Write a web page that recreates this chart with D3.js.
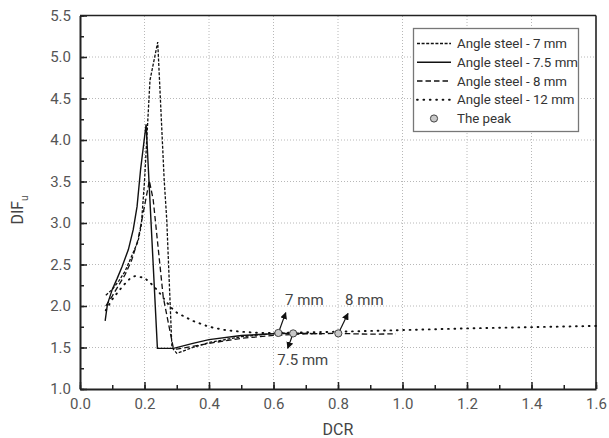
<!DOCTYPE html>
<html><head><meta charset="utf-8">
<script src="https://cdn.jsdelivr.net/npm/d3@7"></script>
<style>
html,body{margin:0;padding:0;background:#fff;}
text{font-family:Roboto,"Noto Sans",sans-serif;}
</style></head>
<body><svg id="c" width="609" height="438"></svg>
<script>
// ---- data ----
const xTicks = [0.0,0.2,0.4,0.6,0.8,1.0,1.2,1.4,1.6];
const yTicks = [1.0,1.5,2.0,2.5,3.0,3.5,4.0,4.5,5.0,5.5];
const seriesNames = ["Angle steel - 7 mm","Angle steel - 7.5 mm","Angle steel - 8 mm","Angle steel - 12 mm"];
const steel7 = [[0.08,2.13],[0.1,2.2],[0.12,2.3],[0.14,2.42],[0.16,2.6],[0.18,2.78],[0.19,2.97],[0.2,3.5],[0.217,4.72],[0.241,5.18],[0.261,3.52],[0.269,3.04],[0.285,1.5],[0.3,1.43],[0.35,1.5],[0.4,1.56],[0.5,1.63],[0.615,1.675],[0.7,1.67],[0.75,1.665]];
const steel75 = [[0.078,1.82],[0.085,2.02],[0.1,2.2],[0.115,2.33],[0.13,2.47],[0.15,2.68],[0.165,2.92],[0.177,3.2],[0.188,3.65],[0.205,4.19],[0.24,1.49],[0.29,1.49],[0.35,1.55],[0.4,1.595],[0.5,1.645],[0.6,1.665],[0.661,1.67],[0.7,1.67]];
const steel8 = [[0.08,2.0],[0.1,2.12],[0.12,2.25],[0.14,2.38],[0.16,2.55],[0.18,2.8],[0.195,3.1],[0.215,3.51],[0.227,3.28],[0.258,2.11],[0.289,1.5],[0.3,1.48],[0.4,1.55],[0.5,1.61],[0.6,1.645],[0.7,1.665],[0.801,1.67],[0.9,1.66],[0.98,1.665]];
const steel12 = [[0.08,1.95],[0.1,2.08],[0.12,2.18],[0.135,2.25],[0.155,2.33],[0.17,2.36],[0.2,2.34],[0.22,2.27],[0.24,2.19],[0.26,2.09],[0.28,1.99],[0.3,1.92],[0.35,1.82],[0.4,1.75],[0.45,1.71],[0.5,1.69],[0.56,1.675],[0.6,1.675],[0.8,1.69],[1.0,1.71],[1.2,1.73],[1.4,1.745],[1.6,1.76]];
const peakX = [0.615,0.661,0.801];
const peakY = [1.675,1.67,1.67];
const peakLabels = ["7 mm","7.5 mm","8 mm"];
const arrowTipX = [0.638,0.644,0.831];
const arrowTipY = [1.92,1.49,1.91];
const labelX = [0.636,0.612,0.822];
const labelY = [2.01,1.29,2.01];

// ---- styles ----
const dashes = ["3,1.6","none","5.5,3","0.8,5.6"];
const caps = ["butt","butt","butt","round"];
const widths = [1.3,1.4,1.3,1.9];
const svg = d3.select("#c");
const x = d3.scaleLinear().domain([0,1.6]).range([80,596]);
const y = d3.scaleLinear().domain([1,5.5]).range([389,15.5]);

// grid
const grid = svg.append("g").attr("stroke","#b8b8b8").attr("stroke-width",1).attr("stroke-dasharray","1,2");
grid.selectAll("line.gx").data(xTicks.slice(1,-1)).enter().append("line")
  .attr("x1",d=>x(d)).attr("x2",d=>x(d)).attr("y1",y(1)).attr("y2",y(5.5));
grid.selectAll("line.gy").data(yTicks.slice(1,-1)).enter().append("line")
  .attr("y1",d=>y(d)).attr("y2",d=>y(d)).attr("x1",x(0)).attr("x2",x(1.6));

// frame top/right
svg.append("line").attr("x1",x(0)).attr("x2",x(1.6)).attr("y1",y(5.5)).attr("y2",y(5.5)).attr("stroke","#222").attr("stroke-width",1.6);
svg.append("line").attr("x1",x(1.6)).attr("x2",x(1.6)).attr("y1",y(5.5)).attr("y2",y(1)).attr("stroke","#222").attr("stroke-width",1.6);

// minor ticks
const minorX = d3.range(0,1.61,0.1).map(v=>+v.toFixed(2));
const minorY = d3.range(1,5.51,0.25).map(v=>+v.toFixed(2));
svg.append("g").attr("transform",`translate(0,${y(1)})`)
  .call(d3.axisBottom(x).tickValues(minorX).tickSize(-4).tickFormat(""))
  .call(g=>{g.select(".domain").remove(); g.selectAll("line").attr("stroke","#222").attr("stroke-width",1.5);});
svg.append("g").attr("transform",`translate(${x(0)},0)`)
  .call(d3.axisLeft(y).tickValues(minorY).tickSize(-4).tickFormat(""))
  .call(g=>{g.select(".domain").remove(); g.selectAll("line").attr("stroke","#222").attr("stroke-width",1.5);});

// major axes
const ax = svg.append("g").attr("transform",`translate(0,${y(1)})`)
  .call(d3.axisBottom(x).tickValues(xTicks).tickSize(-7).tickSizeOuter(0).tickPadding(9).tickFormat(d3.format(".1f")));
const ay = svg.append("g").attr("transform",`translate(${x(0)},0)`)
  .call(d3.axisLeft(y).tickValues(yTicks).tickSize(-7).tickSizeOuter(0).tickPadding(9).tickFormat(d3.format(".1f")));
[ax,ay].forEach(g=>{
  g.select(".domain").attr("stroke","#222").attr("stroke-width",2);
  g.selectAll(".tick line").attr("stroke","#222").attr("stroke-width",1.5);
  g.selectAll(".tick text").attr("font-size",15).attr("fill","#555").attr("font-family","Roboto");
});

// axis titles
svg.append("text").attr("x",x(0.8)).attr("y",435).attr("text-anchor","middle")
  .attr("font-size",16).attr("fill","#444").text("DCR");
const yl = svg.append("text").attr("transform",`translate(23,${210}) rotate(-90)`).attr("text-anchor","middle")
  .attr("font-size",16).attr("fill","#444");
yl.append("tspan").text("DIF");
yl.append("tspan").attr("font-size",10).attr("dy",5).text("u");

// series
const series = [steel7,steel75,steel8,steel12];
const line = d3.line().x(d=>x(d[0])).y(d=>y(d[1]));
svg.append("g").selectAll("path").data(series).enter().append("path")
  .attr("d",line).attr("fill","none").attr("stroke","#111")
  .attr("stroke-width",(d,i)=>widths[i])
  .attr("stroke-linecap",(d,i)=>caps[i])
  .attr("stroke-dasharray",(d,i)=>dashes[i]);

// arrows
const defs = svg.append("defs");
defs.append("marker").attr("id","ah").attr("viewBox","0 0 10 10").attr("refX",9).attr("refY",5)
  .attr("markerWidth",7).attr("markerHeight",7).attr("markerUnits","userSpaceOnUse").attr("orient","auto")
  .append("path").attr("d","M0,0 L10,5 L0,10 z").attr("fill","#111");
svg.append("g").selectAll("line").data(peakX).enter().append("line")
  .attr("x1",(d,i)=>x(d)).attr("y1",(d,i)=>y(peakY[i]))
  .attr("x2",(d,i)=>x(arrowTipX[i])).attr("y2",(d,i)=>y(arrowTipY[i]))
  .attr("stroke","#111").attr("stroke-width",1.2).attr("marker-end","url(#ah)");
svg.append("g").selectAll("text").data(peakLabels).enter().append("text")
  .attr("x",(d,i)=>x(labelX[i])).attr("y",(d,i)=>y(labelY[i]))
  .attr("font-size",15).attr("fill","#444").text(d=>d);

// peaks
svg.append("g").selectAll("circle").data(peakX).enter().append("circle")
  .attr("cx",d=>x(d)).attr("cy",(d,i)=>y(peakY[i])).attr("r",3.6)
  .attr("fill","#c8c8c8").attr("stroke","#444").attr("stroke-width",1);

// legend
const lg = svg.append("g");
lg.append("rect").attr("x",413.5).attr("y",28.5).attr("width",165).attr("height",103)
  .attr("fill","#fff").attr("stroke","#777").attr("stroke-width",1.3);
const legItems = seriesNames.concat(["The peak"]);
const rowY = d3.scaleLinear().domain([0,4]).range([43.5,118.5]);
legItems.forEach((name,i)=>{
  const yy = rowY(i);
  if(i<4){
    lg.append("line").attr("x1",417).attr("x2",451).attr("y1",yy).attr("y2",yy)
      .attr("stroke","#111").attr("stroke-width",widths[i]).attr("stroke-linecap",caps[i]).attr("stroke-dasharray",dashes[i]);
  } else {
    lg.append("circle").attr("cx",434).attr("cy",yy).attr("r",3.6)
      .attr("fill","#c8c8c8").attr("stroke","#444").attr("stroke-width",1);
  }
  lg.append("text").attr("x",457).attr("y",yy+4.5).attr("font-size",13.3).attr("fill","#333").text(name);
});
</script></body></html>
